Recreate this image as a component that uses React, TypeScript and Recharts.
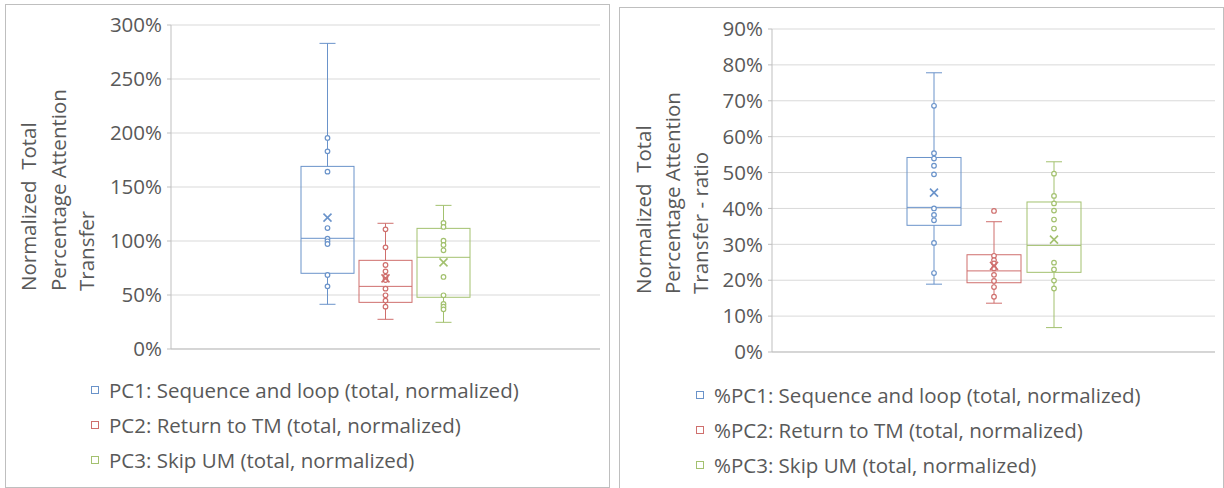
import React from "react";
import { ComposedChart, Bar, XAxis, YAxis, CartesianGrid, Legend } from "recharts";

const FONT = "'Open Sans', sans-serif";
const FS = 20.5;
const TEXT = "#595959";
const AXIS = "#BFBFBF";
const GRID = "#D9D9D9";
const COLORS = ["#6A93CA", "#CF6F6D", "#A3C16F"];

// ---------- Left chart data ----------
const leftNames = [
  "PC1: Sequence and loop (total, normalized)",
  "PC2: Return to TM (total, normalized)",
  "PC3: Skip UM (total, normalized)",
];
const leftTicks = [0, 0.5, 1, 1.5, 2, 2.5, 3];
const leftTitle = ["Normalized  Total", "Percentage Attention", "Transfer"];
const leftPC1 = { low: 0.414, q1: 0.701, median: 1.025, q3: 1.691, high: 2.83, mean: 1.216 };
const leftPC1Points = [1.954, 1.83, 1.642, 1.12, 1.021, 0.997, 0.972, 0.685, 0.58];
const leftPC2 = { low: 0.275, q1: 0.432, median: 0.58, q3: 0.821, high: 1.164, mean: 0.654 };
const leftPC2Points = [1.108, 0.941, 0.778, 0.719, 0.67, 0.639, 0.559, 0.497, 0.448, 0.392];
const leftPC3 = { low: 0.247, q1: 0.479, median: 0.849, q3: 1.117, high: 1.33, mean: 0.802 };
const leftPC3Points = [1.167, 1.13, 1.003, 0.963, 0.914, 0.667, 0.497, 0.417, 0.392, 0.367];

// ---------- Right chart data ----------
const rightNames = [
  "%PC1: Sequence and loop (total, normalized)",
  "%PC2: Return to TM (total, normalized)",
  "%PC3: Skip UM (total, normalized)",
];
const rightTicks = [0, 0.1, 0.2, 0.3, 0.4, 0.5, 0.6, 0.7, 0.8, 0.9];
const rightTitle = ["Normalized  Total", "Percentage Attention", "Transfer - ratio"];
const rightPC1 = { low: 0.189, q1: 0.353, median: 0.403, q3: 0.542, high: 0.778, mean: 0.444 };
const rightPC1Points = [0.686, 0.554, 0.539, 0.519, 0.495, 0.4, 0.382, 0.367, 0.304, 0.22];
const rightPC2 = { low: 0.136, q1: 0.193, median: 0.226, q3: 0.271, high: 0.363, mean: 0.24 };
const rightPC2Points = [0.393, 0.268, 0.256, 0.247, 0.233, 0.215, 0.198, 0.181, 0.154];
const rightPC3 = { low: 0.068, q1: 0.222, median: 0.297, q3: 0.418, high: 0.53, mean: 0.313 };
const rightPC3Points = [0.497, 0.435, 0.414, 0.394, 0.369, 0.344, 0.249, 0.23, 0.199, 0.177];

type Stats = { low: number; q1: number; median: number; q3: number; high: number; mean: number };

function BoxShape(props: any) {
  const { x, y, width, height, stats, points, color } = props;
  const s: Stats = stats;
  const top = Math.min(y, y + height);
  const h = Math.abs(height);
  const yOf = (v: number) => top + (h * (s.high - v)) / (s.high - s.low);
  const cx = x + width / 2;
  const cap = 8;
  const yHigh = yOf(s.high);
  const yLow = yOf(s.low);
  const yQ3 = yOf(s.q3);
  const yQ1 = yOf(s.q1);
  const yMed = yOf(s.median);
  const yMean = yOf(s.mean);
  const m = 4;
  return (
    <g>
      <line x1={cx} x2={cx} y1={yHigh} y2={yQ3} stroke={color} strokeWidth={1} />
      <line x1={cx} x2={cx} y1={yQ1} y2={yLow} stroke={color} strokeWidth={1} />
      <line x1={cx - cap} x2={cx + cap} y1={yHigh} y2={yHigh} stroke={color} strokeWidth={1} />
      <line x1={cx - cap} x2={cx + cap} y1={yLow} y2={yLow} stroke={color} strokeWidth={1} />
      <rect x={x} y={yQ3} width={width} height={yQ1 - yQ3} fill="none" stroke={color} strokeWidth={1} />
      <line x1={x} x2={x + width} y1={yMed} y2={yMed} stroke={color} strokeWidth={1} />
      {points.map((p: number, i: number) => (
        <circle key={i} cx={cx} cy={yOf(p)} r={2.3} fill="#fff" stroke={color} strokeWidth={1.2} />
      ))}
      <line x1={cx - m} x2={cx + m} y1={yMean - m} y2={yMean + m} stroke={color} strokeWidth={1.6} />
      <line x1={cx - m} x2={cx + m} y1={yMean + m} y2={yMean - m} stroke={color} strokeWidth={1.6} />
    </g>
  );
}

function Title({ lines, xs, y0 }: { lines: string[]; xs: number[]; y0: number }) {
  return (
    <g>
      {lines.map((l, i) => (
        <text
          key={i}
          x={xs[i]}
          y={y0}
          transform={`rotate(-90 ${xs[i]} ${y0})`}
          textAnchor="start"
          dominantBaseline="central"
          fill={TEXT}
          fontSize={FS}
          fontFamily={FONT}
          style={{ whiteSpace: "pre" }}
        >
          {l}
        </text>
      ))}
    </g>
  );
}

function LegendBox({ names, squareLeft, textLeft }: { names: string[]; squareLeft: number; textLeft: number }) {
  return (
    <div style={{ fontFamily: FONT, fontSize: FS, color: TEXT }}>
      {names.map((n, i) => (
        <div key={i} style={{ position: "relative", height: 35, lineHeight: "35px", whiteSpace: "nowrap" }}>
          <span
            style={{
              position: "absolute",
              left: 0,
              top: 13,
              width: 8,
              height: 8,
              border: `1px solid ${COLORS[i]}`,
              boxSizing: "border-box",
            }}
          />
          <span style={{ position: "absolute", left: textLeft - squareLeft, top: 0 }}>{n}</span>
        </div>
      ))}
    </div>
  );
}

type PanelProps = {
  stats: Stats[];
  points: number[][];
  names: string[];
  ticks: number[];
  title: string[];
  marginLeft: number;
  marginTop: number;
  marginRight: number;
  barSize: number;
  barGap: number;
  titleXs: number[];
  legendSquare: number;
  legendText: number;
  legendTop: number;
};

function Panel(p: PanelProps) {
  const data = [
    {
      name: "",
      s0: [p.stats[0].low, p.stats[0].high],
      s1: [p.stats[1].low, p.stats[1].high],
      s2: [p.stats[2].low, p.stats[2].high],
    },
  ];
  const max = p.ticks[p.ticks.length - 1];
  return (
    <ComposedChart
      width={604}
      height={483}
      data={data}
      barGap={p.barGap}
      margin={{ top: p.marginTop, right: p.marginRight, bottom: 137, left: p.marginLeft }}
    >
      <CartesianGrid vertical={false} stroke={GRID} />
      <XAxis dataKey="name" tick={false} tickLine={false} axisLine={{ stroke: AXIS }} height={1} />
      <YAxis
        type="number"
        domain={[0, max]}
        ticks={p.ticks}
        interval={0}
        width={70}
        tickSize={4}
        tickMargin={5}
        tickFormatter={(v: number) => `${Math.round(v * 100)}%`}
        tick={{ fill: TEXT, fontSize: FS, fontFamily: FONT }}
        axisLine={{ stroke: AXIS }}
        tickLine={{ stroke: AXIS }}
        label={{ content: () => <Title lines={p.title} xs={p.titleXs} y0={287} /> }}
      />
      {[0, 1, 2].map((i) => (
        <Bar
          key={i}
          dataKey={`s${i}`}
          name={p.names[i]}
          barSize={p.barSize}
          fill="none"
          isAnimationActive={false}
          shape={(sp: any) => <BoxShape {...sp} stats={p.stats[i]} points={p.points[i]} color={COLORS[i]} />}
        />
      ))}
      <Legend
        layout="vertical"
        align="center"
        verticalAlign="middle"
        wrapperStyle={{ position: "absolute", left: p.legendSquare, top: p.legendTop, width: 520 }}
        content={() => <LegendBox names={p.names} squareLeft={p.legendSquare} textLeft={p.legendText} />}
      />
    </ComposedChart>
  );
}

export default function App() {
  return (
    <div
      style={{
        position: "absolute",
        left: 0,
        top: 0,
        width: 1224,
        height: 488,
        background: "#fff",
        overflow: "hidden",
      }}
    >
      <div style={{ position: "absolute", left: 5, top: 4, width: 605, height: 484, border: `1px solid ${AXIS}`, boxSizing: "border-box" }} />
      <div style={{ position: "absolute", left: 5, top: 4 }}>
        <Panel
          stats={[leftPC1, leftPC2, leftPC3]}
          points={[leftPC1Points, leftPC2Points, leftPC3Points]}
          names={leftNames}
          ticks={leftTicks}
          title={leftTitle}
          marginLeft={96}
          marginTop={21}
          marginRight={9}
          barSize={53}
          barGap={5}
          titleXs={[23, 53, 81]}
          legendSquare={86}
          legendText={104}
          legendTop={369}
        />
      </div>
      <div style={{ position: "absolute", left: 619, top: 7, width: 605, height: 490, border: `1px solid ${AXIS}`, boxSizing: "border-box" }} />
      <div style={{ position: "absolute", left: 619, top: 7 }}>
        <Panel
          stats={[rightPC1, rightPC2, rightPC3]}
          points={[rightPC1Points, rightPC2Points, rightPC3Points]}
          names={rightNames}
          ticks={rightTicks}
          title={rightTitle}
          marginLeft={83}
          marginTop={22}
          marginRight={8}
          barSize={54}
          barGap={6}
          titleXs={[24, 53, 81]}
          legendSquare={77}
          legendText={95}
          legendTop={371}
        />
      </div>
    </div>
  );
}
